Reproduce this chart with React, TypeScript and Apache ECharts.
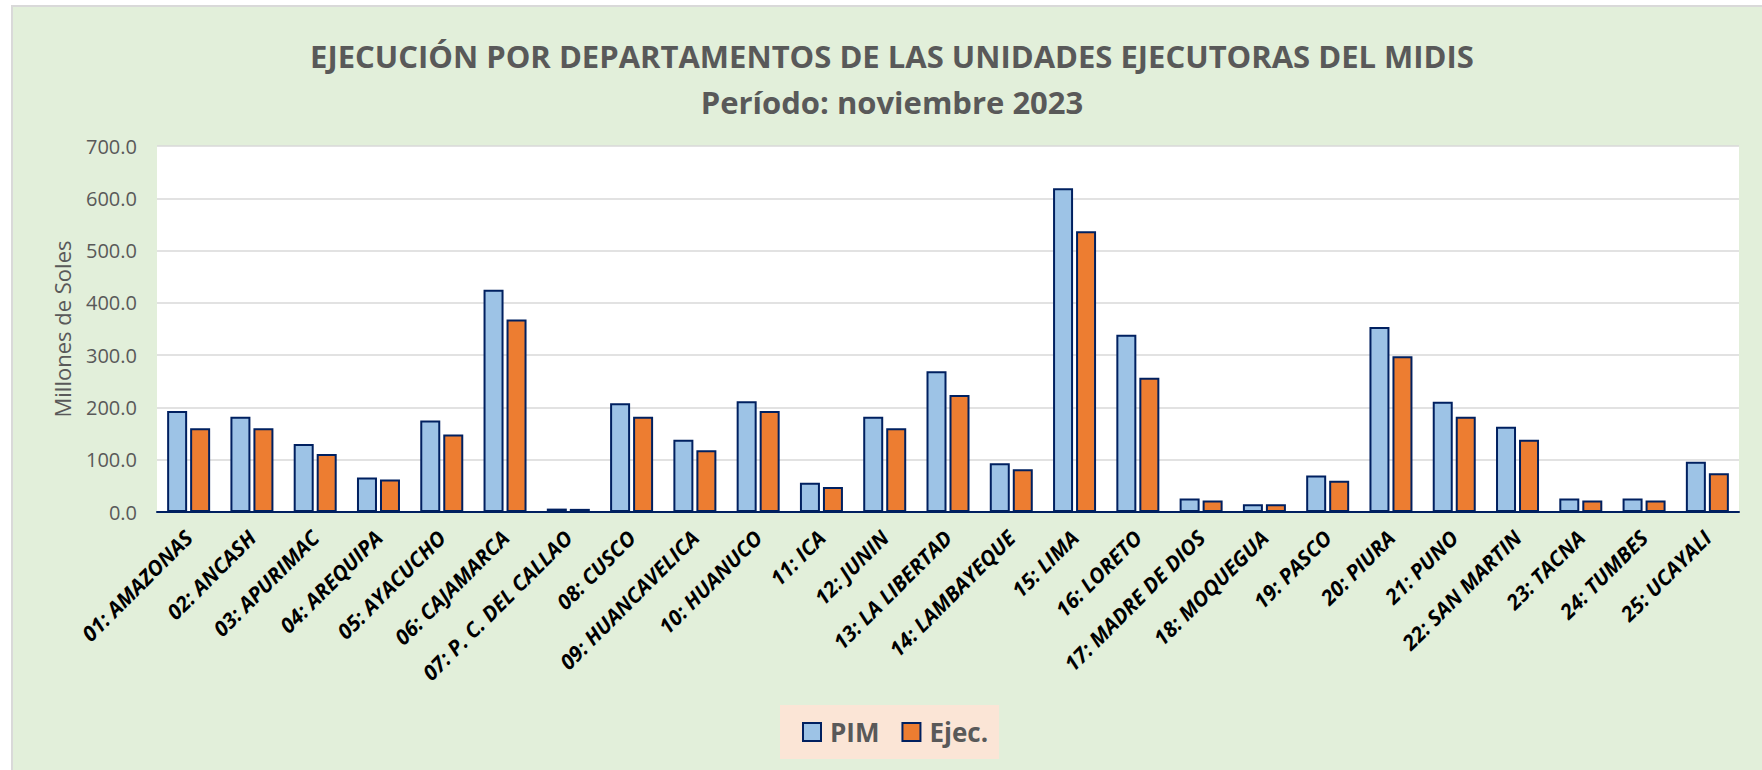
import React, { useEffect, useRef } from "react";
import * as echarts from "echarts";

const categories = [
  "01: AMAZONAS", "02: ANCASH", "03: APURIMAC", "04: AREQUIPA", "05: AYACUCHO",
  "06: CAJAMARCA", "07: P. C. DEL CALLAO", "08: CUSCO", "09: HUANCAVELICA", "10: HUANUCO",
  "11: ICA", "12: JUNIN", "13: LA LIBERTAD", "14: LAMBAYEQUE", "15: LIMA",
  "16: LORETO", "17: MADRE DE DIOS", "18: MOQUEGUA", "19: PASCO", "20: PIURA",
  "21: PUNO", "22: SAN MARTIN", "23: TACNA", "24: TUMBES", "25: UCAYALI",
];
const pim = [193, 182, 130, 66, 175, 425, 6.5, 208, 138, 212, 56, 182, 269, 93, 619, 339, 26, 15, 70, 354, 211, 163, 26, 26, 96];
const ejec = [160, 160, 111, 62, 148, 368, 6, 182, 118, 193, 48, 160, 224, 82, 537, 257, 22, 15, 60, 298, 182, 138, 22, 22, 74];
const seriesNames = ["PIM", "Ejec."];
const titleLine1 = "EJECUCIÓN POR DEPARTAMENTOS DE LAS UNIDADES EJECUTORAS DEL MIDIS";
const titleLine2 = "Período: noviembre 2023";
const yAxisName = "Millones de Soles";

const FONT = "'Open Sans', 'Noto Sans', sans-serif";
const BORDER = "#002060";

export default function App() {
  const ref = useRef<HTMLDivElement>(null);
  useEffect(() => {
    if (!ref.current) return;
    const chart = echarts.init(ref.current, null, { renderer: "svg" });
    chart.setOption({
      animation: false,
      backgroundColor: "transparent",
      textStyle: { fontFamily: FONT },
      graphic: [
        {
          type: "text", x: 892, y: 56,
          style: { text: titleLine1, textAlign: "center", textVerticalAlign: "middle", fill: "#595959", font: `bold 31px ${FONT}` },
        },
        {
          type: "text", x: 892, y: 102,
          style: { text: titleLine2, textAlign: "center", textVerticalAlign: "middle", fill: "#595959", font: `bold 31px ${FONT}` },
        },
      ],
      grid: { left: 157, right: 23, top: 146, bottom: 258, show: true, backgroundColor: "#ffffff", borderWidth: 0, containLabel: false },
      legend: {
        data: [
          { name: seriesNames[0], itemStyle: { color: "#9DC3E6", borderColor: BORDER, borderWidth: 2 } },
          { name: seriesNames[1], itemStyle: { color: "#ED7D31", borderColor: BORDER, borderWidth: 2 } },
        ],
        left: 780, top: 705,
        icon: "rect", itemWidth: 18, itemHeight: 18, itemGap: 22,
        backgroundColor: "#FBE5D6", padding: [14, 11, 14, 22],
        textStyle: { fontSize: 26, fontWeight: "bold", color: "#595959", fontFamily: FONT, padding: [0, 0, 0, 4] },
      },
      xAxis: {
        type: "category", data: categories,
        axisLine: { lineStyle: { color: BORDER, width: 2 } },
        axisTick: { show: false },
        axisLabel: { interval: 0, rotate: 45, margin: 22, color: "#000000", fontSize: 21, fontWeight: "bold", fontStyle: "italic", fontFamily: FONT },
      },
      yAxis: {
        type: "value", min: 0, max: 700, interval: 100,
        name: yAxisName, nameLocation: "middle", nameGap: 84, nameRotate: 90,
        nameTextStyle: { fontSize: 22, color: "#595959", fontFamily: FONT },
        axisLine: { show: false }, axisTick: { show: false },
        axisLabel: { formatter: (v: number) => v.toFixed(1), fontSize: 20, color: "#595959", margin: 20, fontFamily: FONT },
        splitLine: { lineStyle: { color: "#D9D9D9", width: 1.5 } },
      },
      series: [
        { name: seriesNames[0], type: "bar", data: pim, barWidth: 20, barGap: "15%", itemStyle: { color: "#9DC3E6", borderColor: BORDER, borderWidth: 2 } },
        { name: seriesNames[1], type: "bar", data: ejec, barWidth: 20, barGap: "15%", itemStyle: { color: "#ED7D31", borderColor: BORDER, borderWidth: 2 } },
      ],
    });
    return () => chart.dispose();
  }, []);
  return (
    <div style={{ position: "fixed", left: 0, top: 0, width: 1762, height: 770, background: "#ffffff" }}>
      <div style={{ position: "absolute", left: 11, top: 5, right: 0, bottom: 0, background: "#D9D9D9" }} />
      <div style={{ position: "absolute", left: 13, top: 7, right: 0, bottom: 0, background: "#E2EFDA" }} />
      <div ref={ref} style={{ position: "absolute", left: 0, top: 0, width: 1762, height: 770 }} />
    </div>
  );
}
